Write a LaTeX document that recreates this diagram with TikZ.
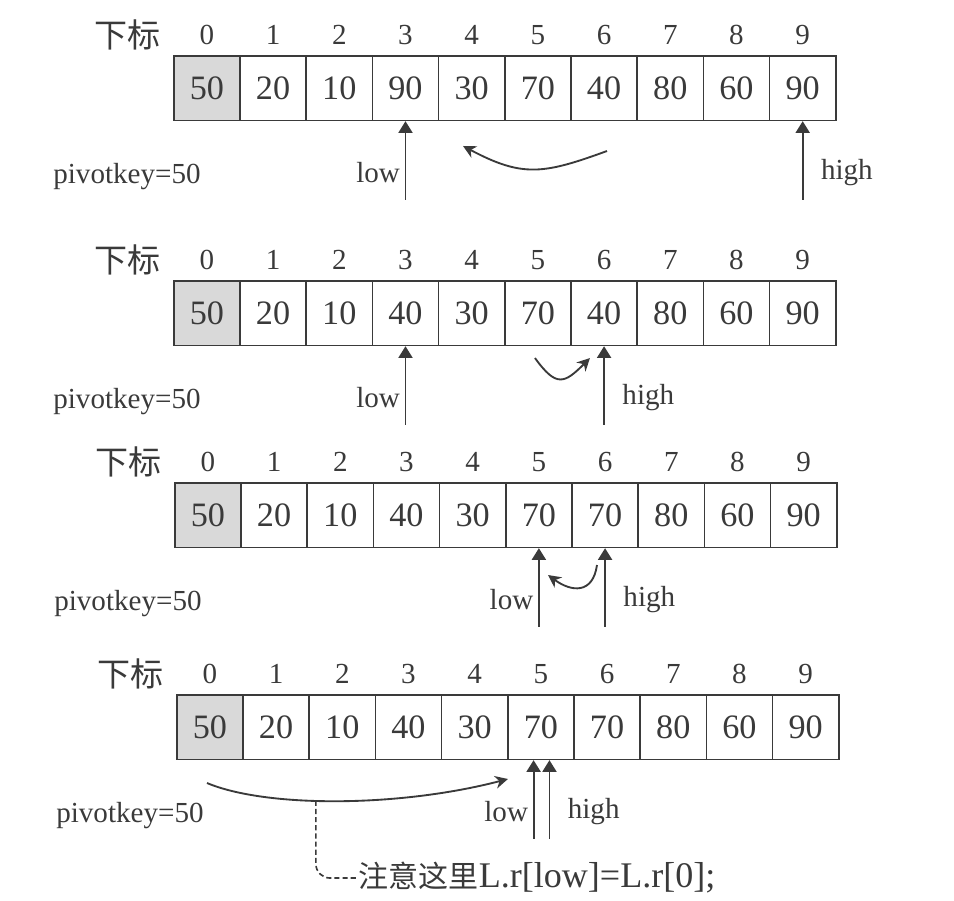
\documentclass[tikz,border=0pt]{standalone}
\usepackage{fontspec}
\setmainfont{Liberation Serif}
\newfontfamily\cjk{Noto Sans CJK SC}
\usetikzlibrary{%
  calc,arrows.meta}
\tikzset {>=Stealth}
\definecolor{ink}{HTML}{3A3A3A}
\definecolor{keygray}{HTML}{D9D9D9}
\tikzset{
  cell/.style={draw=ink, line width=0.7pt, minimum width=1cm,
    minimum height=0.975cm, inner sep=0pt, anchor=north west,
    text=ink, font=\fontsize{14.7}{16}\selectfont},
  keycell/.style={cell, fill=keygray},
  lbl/.style={text=ink, inner sep=1pt, font=\fontsize{12.5}{14}\selectfont},
  ptr/.style={draw=ink, line width=0.8pt, -{Triangle[length=5pt,width=6pt]}},
  swap/.style={draw=ink, line width=0.8pt, -{Stealth[length=5.5pt,width=5.5pt]}},
  hint/.style={draw=ink, line width=0.7pt, dash pattern=on 2.2pt off 1.3pt,
    rounded corners=6pt}
}

\begin{document}
\begin{tikzpicture}
\useasboundingbox (-2.613,0) rectangle (11.798,-13.61);
\foreach \r/\xo/\yt/\vals in {1/0/-0.831/{20,10,90,30,70,40,80,60,90},
                              2/0/-4.230/{20,10,40,30,70,40,80,60,90},
                              3/0.015/-7.281/{20,10,40,30,70,70,80,60,90},
                              4/0.045/-10.483/{20,10,40,30,70,70,80,60,90}} {
  \node[keycell] (c\r0) at (\xo,\yt) {50};
  \foreach \v [count=\i] in \vals
    \node[cell] (c\r\i) at (\i+\xo,\yt) {\v};
  \foreach \i in {0,...,9}
    \node[lbl] (i\r\i) at ($(c\r\i.north)+(0,0.3)$) {\i};
  \node[lbl] (sub\r) at ($(c\r0.north)+(-1.2,0.3)$)
    {\cjk\fontsize{14.2}{16}\selectfont 下标};
  \node[lbl] (pk\r) at ($(c\r0.south west)+(-0.695,-0.83)$) {pivotkey=50};
}
% low / high pointers
\foreach \r/\lo/\hi in {1/3/9, 2/3/6, 3/5/6} {
  \coordinate (lo\r) at ($(c\r\lo.south)+(0,-1.19)$);
  \coordinate (hi\r) at ($(c\r\hi.south)+(0,-1.19)$);
  \draw[ptr] (lo\r) -- node[lbl,left,pos=0.35,xshift=-1pt] {low} (c\r\lo.south);
  \draw[ptr] (hi\r) -- node[lbl,right,pos=0.35,xshift=6.5pt] {high} (c\r\hi.south);
}
\coordinate (lt4) at ($(c45.south)+(-0.11,0)$);
\coordinate (ht4) at ($(c45.south)+(0.13,0)$);
\coordinate (lo4) at ($(lt4)+(0,-1.19)$);
\coordinate (hi4) at ($(ht4)+(0,-1.19)$);
\draw[ptr] (lo4) -- node[lbl,left,pos=0.35,xshift=-1pt] {low} (lt4);
\draw[ptr] (hi4) -- node[lbl,right,pos=0.35,xshift=6.5pt] {high} (ht4);
% moves
\coordinate (s1) at (6.556,-2.281);  \coordinate (e1) at (4.381,-2.205);
\coordinate (s2) at (5.468,-5.408);  \coordinate (e2) at (6.299,-5.408);
\coordinate (s3) at (6.405,-8.535);  \coordinate (e3) at (5.665,-8.686);
\coordinate (s4) at (0.514,-11.828); \coordinate (e4) at (5.060,-11.767);
\draw[swap] (s1) to[out=200,in=-28,looseness=1.2] (e1);
\draw[swap] (s2) to[out=-54,in=-135,looseness=1.7] (e2);
\draw[swap] (s3) to[out=-98,in=-36,looseness=1.5] (e3);
\draw[swap] (s4) .. controls (1.4,-12.2) and (3.4,-12.2) ..
  coordinate[pos=0.43] (dip) (e4);
\node[lbl,anchor=west] (note) at (2.764,-13.263)
  {{\cjk\fontsize{12.9}{15}\selectfont 注意这里}{\fontsize{15.5}{18}\selectfont L.r[low]=L.r[0];}};
\draw[hint] (dip) |- (note.west);
\end{tikzpicture}
\end{document}
